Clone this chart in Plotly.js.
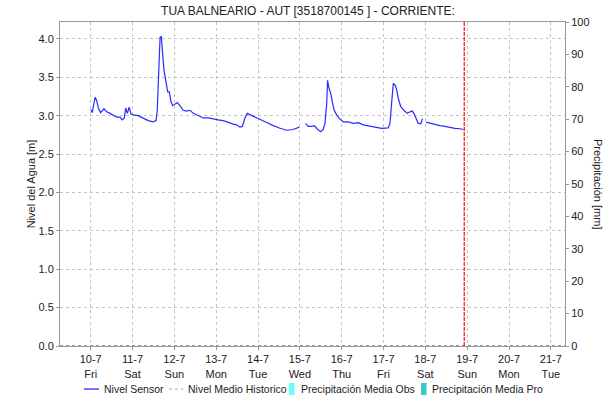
<!DOCTYPE html>
<html>
<head>
<meta charset="utf-8">
<script src="https://cdn.plot.ly/plotly-3.0.1.min.js"></script>
<style>html,body{margin:0;padding:0;background:#fff;}#chart{width:616px;height:412px;}</style>
</head>
<body>
<div id="chart"></div>
<script>
// Hours since 2020-07-10 00:00 (null value = gap in record)
const sensorHours = [0,0.9,2.5,3.4,4.4,5.7,7.6,9.2,11.1,13.0,14.9,16.8,18.1,19.3,20.1,21.0,22.1,23.1,24.4,27.3,30.2,33.0,35.9,37.5,38.2,39.0,39.8,40.5,41.3,42.0,43.2,44.2,45.1,46.1,47.0,48.4,49.7,51.2,53.1,55.1,57.0,58.9,60.8,62.7,64.6,67.5,70.3,73.2,76.1,78.9,81.8,83.7,85.6,87.0,88.5,89.8,92.4,95.2,98.1,101.0,103.8,106.7,108.2,112.4,116.2,119.7,
  121.5,
  123.3,124.8,126.8,128.3,130.2,132.1,133.4,134.4,135.4,135.9,136.7,137.7,138.6,139.7,141.1,143.0,144.9,147.8,150.6,153.5,156.4,159.2,163.1,166.9,170.7,171.7,172.7,173.6,174.6,175.5,176.4,177.8,179.7,181.6,183.2,184.5,185.6,186.6,187.9,189.3,190.4,
  191.4,
  192.3,194.6,197.5,200.4,203.2,206.1,209.0,211.9,213.7];
const sensorLevel = [3.08,3.04,3.24,3.20,3.10,3.04,3.09,3.05,3.03,3.01,2.98,2.98,2.945,2.97,3.10,3.03,3.11,3.02,3.01,3.00,2.97,2.935,2.92,2.935,3.07,3.51,4.02,4.03,3.81,3.60,3.44,3.31,3.31,3.18,3.13,3.15,3.17,3.13,3.07,3.06,3.07,3.03,3.01,3.00,2.97,2.97,2.955,2.945,2.935,2.91,2.89,2.88,2.85,2.86,2.97,3.03,3.00,2.97,2.935,2.91,2.88,2.85,2.84,2.81,2.82,2.85,
  null,
  2.90,2.86,2.86,2.87,2.82,2.79,2.82,2.90,3.16,3.46,3.36,3.29,3.18,3.07,3.01,2.955,2.92,2.92,2.90,2.91,2.88,2.87,2.85,2.835,2.84,2.90,3.18,3.42,3.40,3.34,3.23,3.12,3.07,3.03,3.05,3.06,3.02,2.97,2.90,2.89,2.96,
  null,
  2.915,2.90,2.88,2.87,2.86,2.845,2.835,2.83,2.82];

const historicDays = ['2020-07-10'];
const historicLevel = [null];
const precipDays = ['2020-07-10','2020-07-11','2020-07-12','2020-07-13','2020-07-14','2020-07-15','2020-07-16','2020-07-17','2020-07-18','2020-07-19','2020-07-20','2020-07-21'];
const precipObs = [0,0,0,0,0,0,0,0,0,0,0,0];
const precipPro = [0,0,0,0,0,0,0,0,0,0,0,0];

const seriesNames = ['Nivel Sensor','Nivel Medio Historico','Precipitación Media Obs','Precipitación Media Pro'];
const tickDates = ['2020-07-10','2020-07-11','2020-07-12','2020-07-13','2020-07-14','2020-07-15','2020-07-16','2020-07-17','2020-07-18','2020-07-19','2020-07-20','2020-07-21'];
const tickLabels = ['10-7<br>Fri','11-7<br>Sat','12-7<br>Sun','13-7<br>Mon','14-7<br>Tue','15-7<br>Wed','16-7<br>Thu','17-7<br>Fri','18-7<br>Sat','19-7<br>Sun','20-7<br>Mon','21-7<br>Tue'];
const nowTime = '2020-07-18 22:18';
const xRange = ['2020-07-09 06:24','2020-07-21 08:06'];

const base = Date.UTC(2020,6,10);
function hToDate(h){ return new Date(base + h*3600000).toISOString().slice(0,19).replace('T',' '); }
const sensorX = sensorHours.map(hToDate);

const colors = {sensor:'#2a2aff', historic:'#c8c8c8', obs:'#66ffff', pro:'#3cc8c8'};
const font = {family:'Liberation Sans, Arial, sans-serif', size:11, color:'#222'};
const grid = '#c4c4c4';

const traces = [
  {x: sensorX, y: sensorLevel, type:'scatter', mode:'lines', name:seriesNames[0],
   line:{color:colors.sensor, width:1.2}, connectgaps:false},
  {x: historicDays, y: historicLevel, type:'scatter', mode:'lines', name:seriesNames[1],
   line:{color:colors.historic, width:1.5, dash:'dot'}},
  {x: precipDays, y: precipObs, type:'bar', name:seriesNames[2], yaxis:'y2',
   marker:{color:colors.obs, line:{width:0}}},
  {x: precipDays, y: precipPro, type:'bar', name:seriesNames[3], yaxis:'y2',
   marker:{color:colors.pro, line:{width:0}}}
];

// plot area in pixels -> paper coords for the hand-drawn legend
const M = {l:60, r:51, t:22, b:66};
const PW = 616 - M.l - M.r, PH = 412 - M.t - M.b;
const px = p => (p - M.l) / PW;
const py = p => (412 - M.b - p) / PH;
const LY = 389;

const legendShapes = [
  {type:'line', xref:'paper', yref:'paper', x0:px(84), x1:px(99), y0:py(LY), y1:py(LY), line:{color:colors.sensor, width:1.3}},
  {type:'line', xref:'paper', yref:'paper', x0:px(169), x1:px(183), y0:py(LY), y1:py(LY), line:{color:colors.historic, width:1.5, dash:'3px,3px'}},
  {type:'rect', xref:'paper', yref:'paper', x0:px(289), x1:px(294.5), y0:py(395), y1:py(383), fillcolor:colors.obs, line:{width:0}},
  {type:'rect', xref:'paper', yref:'paper', x0:px(421), x1:px(426.5), y0:py(395), y1:py(383), fillcolor:colors.pro, line:{width:0}}
];
const legendTextX = [102, 186, 299, 430];
const legendAnn = seriesNames.map((n,i)=>({text:n, xref:'paper', yref:'paper', x:px(legendTextX[i]), y:py(LY), xanchor:'left', yanchor:'middle', showarrow:false, font:{family:font.family, size:10.5, color:'#222'}}));

const layout = {
  width:616, height:412,
  margin:{l:M.l, r:M.r, t:M.t, b:M.b, autoexpand:false},
  paper_bgcolor:'#fff', plot_bgcolor:'#fff',
  font: font,
  title:{text:'TUA BALNEARIO - AUT [3518700145 ] - CORRIENTE:', font:{family:font.family, size:12, color:'#222'}, x:0.5, xanchor:'center', y:0.985, yanchor:'top'},
  showlegend:false,
  xaxis:{type:'date', range:xRange, tickmode:'array', tickvals:tickDates, ticktext:tickLabels, automargin:false,
    showgrid:true, gridcolor:grid, griddash:'dot', gridwidth:1,
    showline:true, mirror:true, linecolor:'#999', linewidth:1,
    ticks:'outside', ticklen:3, tickcolor:'#999', zeroline:false, tickfont:font},
  yaxis:{range:[0,4.22], tickmode:'array', tickvals:[0,0.5,1,1.5,2,2.5,3,3.5,4], tickformat:'.1f', automargin:false,
    showgrid:true, gridcolor:grid, griddash:'dot', gridwidth:1, zeroline:false,
    showline:true, linecolor:'#999', linewidth:1, ticks:'outside', ticklen:3, tickcolor:'#999',
    title:{text:'Nivel del Agua [m]', font:{family:font.family, size:11, color:'#222'}, standoff:0}, tickfont:font},
  yaxis2:{range:[0,100], overlaying:'y', side:'right', tickmode:'array', tickvals:[0,10,20,30,40,50,60,70,80,90,100], automargin:false,
    showgrid:false, zeroline:false, showline:true, linecolor:'#999', linewidth:1, ticks:'outside', ticklen:3, tickcolor:'#999', tickfont:font},
  shapes:[
    {type:'line', xref:'paper', yref:'y', x0:0, x1:1, y0:0, y1:0, line:{color:'#333', width:1, dash:'dot'}},
    {type:'line', xref:'x', yref:'paper', x0:nowTime, x1:nowTime, y0:0, y1:1, line:{color:'#ff1a1a', width:1.3, dash:'4px,1px'}}
  ].concat(legendShapes),
  annotations:[
    {text:'Precipitación [mm]', xref:'paper', yref:'paper', x:1, xshift:33, y:0.5, textangle:90, showarrow:false, xanchor:'center', yanchor:'middle', font:{family:font.family, size:11, color:'#222'}}
  ].concat(legendAnn),
  bargap:0.2
};

Plotly.newPlot('chart', traces, layout, {displayModeBar:false, staticPlot:true});
</script>
</body>
</html>
